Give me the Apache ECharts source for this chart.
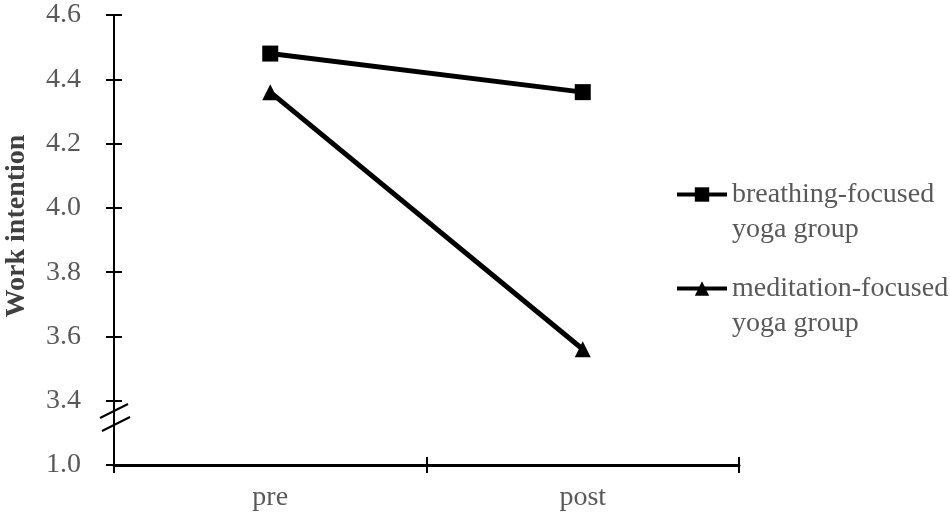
<!DOCTYPE html>
<html>
<head>
<meta charset="utf-8">
<script src="https://cdn.jsdelivr.net/npm/echarts@6/dist/echarts.min.js"></script>
<style>html,body{margin:0;padding:0;background:#fff}#c{width:950px;height:516px}</style>
</head>
<body>
<div id="c"></div>
<script>
var categories = ['pre', 'post'];
var breathing = [4.48, 4.36];
var meditation = [4.36, 3.56];
var seriesNames = ['breathing-focused\nyoga group', 'meditation-focused\nyoga group'];
// axis with break: the lowest tick (axis position 3.2) is labelled 1.0
var yTickLabels = ['1.0', '3.4', '3.6', '3.8', '4.0', '4.2', '4.4', '4.6'];
var yMin = 3.2, yMax = 4.6, yStep = 0.2;

var FONT = '"Liberation Serif", "Times New Roman", serif';
var GRAY = '#595959';
var chart = echarts.init(document.getElementById('c'), null, {renderer: 'canvas'});

function yLabel(v) {
  var i = Math.round((v - yMin) / yStep);
  return yTickLabels[i] || '';
}

var option = {
  animation: false,
  backgroundColor: '#fff',
  grid: {left: 114, right: 211, top: 15, bottom: 51, containLabel: false, outerBoundsMode: 'none'},
  xAxis: [{
    type: 'category', data: categories, boundaryGap: true,
    axisLine: {lineStyle: {color: '#000', width: 3}},
    axisTick: {show: true, length: 8, lineStyle: {color: '#000', width: 2}},
    axisLabel: {color: GRAY, fontFamily: FONT, fontSize: 28, margin: 19},
    splitLine: {show: false}
  }, {
    type: 'category', data: categories, boundaryGap: true, position: 'bottom',
    axisLine: {show: false},
    axisTick: {show: true, inside: true, length: 8, lineStyle: {color: '#000', width: 2}},
    axisLabel: {show: false}, splitLine: {show: false}
  }],
  yAxis: [{
    type: 'value', min: yMin, max: yMax, interval: yStep,
    name: 'Work intention', nameLocation: 'middle', nameGap: 83,
    nameTextStyle: {fontFamily: FONT, fontSize: 28, fontWeight: 'bold', color: '#404040', padding: [0, 0, 0, 28]},
    axisLine: {show: true, lineStyle: {color: '#000', width: 2}},
    axisTick: {show: true, length: 8, lineStyle: {color: '#000', width: 2}},
    axisLabel: {color: GRAY, fontFamily: FONT, fontSize: 28, margin: 33, formatter: yLabel},
    splitLine: {show: false}
  }, {
    type: 'value', min: yMin, max: yMax, interval: yStep, position: 'left',
    axisLine: {show: false},
    axisTick: {show: true, inside: true, length: 8, lineStyle: {color: '#000', width: 2}},
    axisLabel: {show: false}, splitLine: {show: false}
  }],
  legend: {
    orient: 'vertical', left: 675, top: 194 - 52, padding: 0,
    itemWidth: 50, itemHeight: 18, itemGap: -11,
    lineStyle: {width: 4},
    formatter: function (n) { return '\n' + n; },
    textStyle: {color: GRAY, fontFamily: FONT, fontSize: 28, lineHeight: 35},
    data: seriesNames
  },
  series: [{
    name: seriesNames[0], type: 'line', data: breathing,
    symbol: 'rect', symbolSize: 16,
    lineStyle: {color: '#000', width: 5}, itemStyle: {color: '#000'}
  }, {
    name: seriesNames[1], type: 'line', data: meditation,
    symbol: 'triangle', symbolSize: 16,
    lineStyle: {color: '#000', width: 5}, itemStyle: {color: '#000'}
  }]
};
chart.setOption(option);

// axis break marks (decoration) placed relative to the axis
function drawBreak() {
  var base = chart.convertToPixel({yAxisIndex: 0}, yMin);
  var ax = 114;
  chart.setOption({graphic: [
    {type: 'line', shape: {x1: ax - 14, y1: base - 47, x2: ax + 14, y2: base - 61}, style: {stroke: '#000', lineWidth: 2}},
    {type: 'line', shape: {x1: ax - 12, y1: base - 34, x2: ax + 16, y2: base - 48}, style: {stroke: '#000', lineWidth: 2}}
  ]});
}
drawBreak();
</script>
</body>
</html>
